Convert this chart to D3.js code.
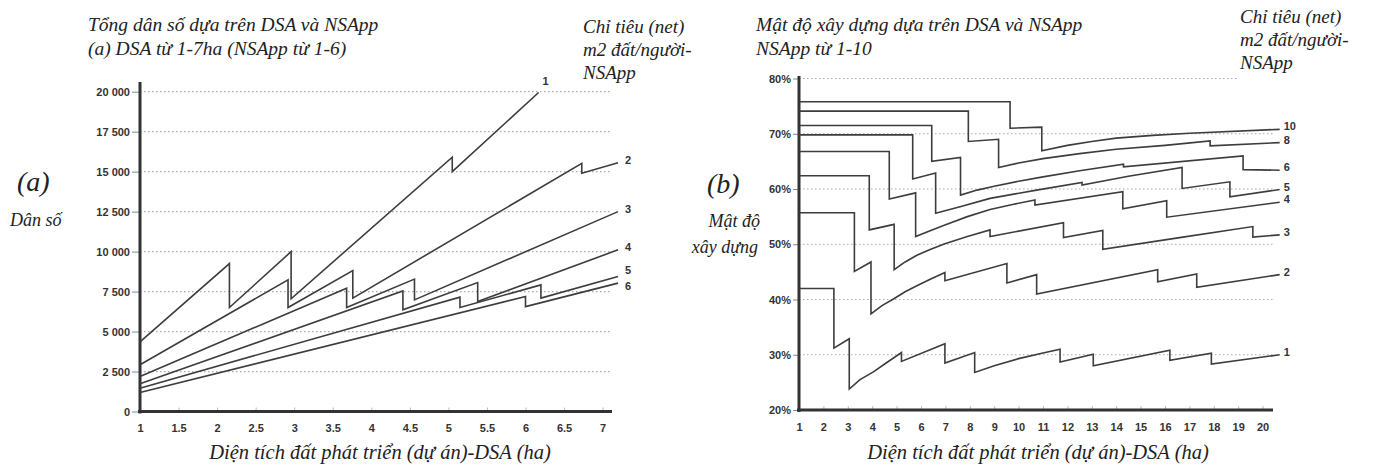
<!DOCTYPE html>
<html>
<head>
<meta charset="utf-8">
<script src="https://cdn.jsdelivr.net/npm/d3@7"></script>
<style>
body { margin: 0; background: #fff; }
svg text { font-family: "Liberation Sans", Arial, sans-serif; }
.ttl { font-family: "Liberation Serif", "Times New Roman", serif; font-style: italic; fill: #222; }
.tick text { font-weight: bold; font-size: 11px; fill: #333; }
.lbl { font-weight: bold; font-size: 11px; fill: #333; }
</style>
</head>
<body>
<svg width="1376" height="468"></svg>
<script>
// (a) tong dan so theo DSA (ha), moi duong la mot chi tieu NSApp
var popNames = ["1", "2", "3", "4", "5", "6"];
var pop1 = [[1,4350],[2.16,9250],[2.16,6500],[2.96,10000],[2.96,7050],[5.05,15900],[5.05,15000],[6.17,19950]];
var pop2 = [[1,2920],[2.92,8230],[2.92,6500],[3.76,8810],[3.76,7090],[6.73,15520],[6.73,14900],[7.2,15560]];
var pop3 = [[1,2190],[3.68,7710],[3.68,6500],[4.56,8280],[4.56,6980],[7.2,12500]];
var pop4 = [[1,1730],[4.41,7540],[4.41,6360],[5.38,8060],[5.38,6880],[7.2,10110]];
var pop5 = [[1,1460],[5.15,7150],[5.15,6500],[6.2,7920],[6.2,7090],[7.2,8440]];
var pop6 = [[1,1190],[6.0,7190],[6.0,6560],[7.2,8030]];
var popXTicks = [1, 1.5, 2, 2.5, 3, 3.5, 4, 4.5, 5, 5.5, 6, 6.5, 7];
var popYTicks = [0, 2500, 5000, 7500, 10000, 12500, 15000, 17500, 20000];

// (b) mat do xay dung (%) theo DSA (ha)
var densNames = ["10", "8", "6", "5", "4", "3", "2", "1"];
var dens10 = [[1,75.8],[9.65,75.8],[9.65,71.0],[10.95,71.2],[10.95,66.9],[12,67.9],[13,68.6],[14,69.2],[15.5,69.7],[17,70.1],[20.7,70.8]];
var dens8 = [[1,74.1],[7.94,74.1],[7.94,68.6],[9.18,69.0],[9.18,63.9],[10,64.7],[11,65.5],[12.5,66.4],[14,67.2],[16,67.9],[17.85,68.7],[17.85,67.8],[20.7,68.4]];
var dens6 = [[1,71.5],[6.44,71.5],[6.44,65.0],[7.62,65.7],[7.62,58.9],[8.3,59.8],[9,60.5],[10,61.4],[11,62.2],[12.5,63.3],[14.3,64.5],[14.3,64.0],[19.2,66.0],[19.2,63.5],[20.7,63.4]];
var dens5 = [[1,69.8],[5.66,69.8],[5.66,61.8],[6.6,62.9],[6.6,55.6],[7.6,56.8],[8.83,58.3],[10.74,59.8],[12.6,61.2],[12.6,60.7],[14.5,62.3],[16.7,63.9],[16.7,60.1],[18.66,61.3],[18.66,58.6],[20.7,59.9]];
var dens4 = [[1,66.8],[4.7,66.8],[4.7,58.2],[5.78,59.3],[5.78,51.4],[6.4,52.5],[6.98,53.5],[7.9,55.0],[8.83,56.3],[9.75,57.2],[10.67,58.0],[10.67,57.1],[14.27,59.5],[14.27,56.4],[16.07,57.9],[16.07,54.9],[20.7,57.6]];
var dens3 = [[1,62.4],[3.88,62.4],[3.88,52.6],[4.9,53.6],[4.9,45.4],[5.35,46.8],[5.83,48.0],[6.4,49.1],[6.98,50.1],[7.9,51.4],[8.83,52.6],[8.83,51.4],[11.84,53.9],[11.84,51.2],[13.45,52.5],[13.45,49.1],[16.6,51.2],[19.6,53.2],[19.6,51.3],[20.7,51.7]];
var dens2 = [[1,55.7],[3.27,55.7],[3.27,45.1],[3.95,46.8],[3.95,37.4],[4.4,38.9],[4.87,40.1],[5.35,41.4],[5.83,42.5],[6.4,43.7],[6.98,44.9],[6.98,43.4],[9.52,46.5],[9.52,43.0],[10.74,44.5],[10.74,41.0],[15.7,45.4],[15.7,43.2],[17.3,44.6],[17.3,42.2],[20.7,44.5]];
var dens1 = [[1,42.0],[2.43,42.0],[2.43,31.2],[3.06,32.9],[3.06,23.8],[3.5,25.5],[4.05,26.9],[4.6,28.6],[5.2,30.4],[5.2,28.8],[6.98,32.0],[6.98,28.5],[8.2,30.4],[8.2,26.8],[9,28.0],[10,29.3],[11,30.3],[11.7,31.0],[11.7,28.7],[13.06,30.1],[13.06,28.0],[16.2,30.8],[16.2,29.0],[17.9,30.3],[17.9,28.3],[20.7,30.0]];
var densXTicks = d3.range(1, 21);
var densYTicks = [20, 30, 40, 50, 60, 70, 80];

var popLines = [pop1, pop2, pop3, pop4, pop5, pop6];
var densLines = [dens10, dens8, dens6, dens5, dens4, dens3, dens2, dens1];

var svg = d3.select("svg");
svg.append("rect").attr("width", 1376).attr("height", 468).attr("fill", "#fff");

var spaceFmt = d3.formatLocale({decimal: ".", thousands: " ", grouping: [3], currency: ["", ""]}).format(",");

// ---------- chart (a) ----------
var xa = d3.scaleLinear().domain([1, 7]).range([140, 602.6]);
var ya = d3.scaleLinear().domain([0, 20000]).range([411.5, 91.7]);

var ga = svg.append("g");
ga.append("g").selectAll("line")
  .data(popYTicks.slice(1))
  .enter().append("line")
  .attr("x1", xa(1)).attr("x2", 612)
  .attr("y1", function(d) { return ya(d); })
  .attr("y2", function(d) { return ya(d); })
  .attr("stroke", "#aaa").attr("stroke-width", 1.2)
  .attr("stroke-dasharray", "1.5,2.5");

var axYa = ga.append("g").attr("transform", "translate(" + xa(1) + ",0)")
  .call(d3.axisLeft(ya).tickValues(popYTicks).tickSize(8).tickSizeOuter(0).tickFormat(spaceFmt).tickPadding(2));
axYa.select(".domain").remove();
axYa.selectAll(".tick line").attr("stroke", "#888");
axYa.selectAll(".tick text").attr("font-size", 12);

var axXa = ga.append("g").attr("transform", "translate(0," + ya(0) + ")")
  .call(d3.axisBottom(xa).tickValues(popXTicks).tickSize(-4).tickSizeOuter(0).tickPadding(13).tickFormat(d3.format("")));
axXa.select(".domain").remove();
axXa.selectAll(".tick line").attr("stroke", "#bbb");
axXa.selectAll(".tick text").attr("font-size", 12);

ga.append("line").attr("x1", xa(1)).attr("x2", xa(1)).attr("y1", 82).attr("y2", ya(0) + 2)
  .attr("stroke", "#333").attr("stroke-width", 3);
ga.append("line").attr("x1", xa(1) - 2).attr("x2", 612).attr("y1", ya(0)).attr("y2", ya(0))
  .attr("stroke", "#333").attr("stroke-width", 3);

var lineA = d3.line().x(function(d) { return xa(d[0]); }).y(function(d) { return ya(d[1]); });
ga.append("g").selectAll("path")
  .data(popLines)
  .enter().append("path")
  .attr("d", lineA)
  .attr("fill", "none").attr("stroke", "#3d3d3d").attr("stroke-width", 1.6);

// nhan cuoi duong: "1" dat phia tren, "5" va "6" tach ra cho khoi de len nhau
var popNudge = {"1": -8, "5": -4, "6": 6};
ga.append("g").selectAll("text")
  .data(popLines)
  .enter().append("text")
  .attr("class", "lbl")
  .attr("x", function(d, i) { var p = d[d.length - 1]; return xa(p[0]) + (i == 0 ? 4 : 7); })
  .attr("y", function(d, i) { var p = d[d.length - 1]; return ya(p[1]) + 1 + (popNudge[popNames[i]] || 0); })
  .text(function(d, i) { return popNames[i]; });

ga.append("text").attr("class", "ttl").attr("x", 88).attr("y", 31).attr("font-size", 19.5)
  .text("Tổng dân số dựa trên DSA và NSApp");
ga.append("text").attr("class", "ttl").attr("x", 88).attr("y", 55).attr("font-size", 19.5)
  .text("(a) DSA từ 1-7ha (NSApp từ 1-6)");
ga.append("text").attr("class", "ttl").attr("x", 583).attr("y", 33).attr("font-size", 19).text("Chỉ tiêu (net)");
ga.append("text").attr("class", "ttl").attr("x", 583).attr("y", 56).attr("font-size", 19).text("m2 đất/người-");
ga.append("text").attr("class", "ttl").attr("x", 583).attr("y", 79).attr("font-size", 19).text("NSApp");
ga.append("text").attr("class", "ttl").attr("x", 17).attr("y", 191).attr("font-size", 28).text("(a)");
ga.append("text").attr("class", "ttl").attr("x", 10).attr("y", 226).attr("font-size", 18).text("Dân số");
ga.append("text").attr("class", "ttl").attr("x", 380).attr("y", 459).attr("font-size", 20.5)
  .attr("text-anchor", "middle").text("Diện tích đất phát triển (dự án)-DSA (ha)");

// ---------- chart (b) ----------
var xb = d3.scaleLinear().domain([1, 20]).range([799, 1262.6]);
var yb = d3.scaleLinear().domain([20, 80]).range([410, 78.5]);

var gb = svg.append("g");
gb.append("g").selectAll("line")
  .data(densYTicks.slice(1))
  .enter().append("line")
  .attr("x1", xb(1)).attr("x2", function(d) { return d == 80 ? 1237 : 1275; })
  .attr("y1", function(d) { return yb(d); })
  .attr("y2", function(d) { return yb(d); })
  .attr("stroke", "#aaa").attr("stroke-width", 1.2)
  .attr("stroke-dasharray", "1.5,2.5");

var axYb = gb.append("g").attr("transform", "translate(" + xb(1) + ",0)")
  .call(d3.axisLeft(yb).tickValues(densYTicks).tickSize(6).tickSizeOuter(0).tickPadding(2)
    .tickFormat(function(d) { return d + "%"; }));
axYb.select(".domain").remove();
axYb.selectAll(".tick line").attr("stroke", "#888");
axYb.selectAll(".tick text").attr("font-size", 11);

var axXb = gb.append("g").attr("transform", "translate(0," + yb(20) + ")")
  .call(d3.axisBottom(xb).tickValues(densXTicks).tickSize(-4).tickSizeOuter(0).tickPadding(13));
axXb.select(".domain").remove();
axXb.selectAll(".tick line").attr("stroke", "#bbb");

gb.append("line").attr("x1", xb(1)).attr("x2", xb(1)).attr("y1", 76).attr("y2", yb(20) + 2)
  .attr("stroke", "#333").attr("stroke-width", 3);
gb.append("line").attr("x1", xb(1) - 2).attr("x2", 1273).attr("y1", yb(20)).attr("y2", yb(20))
  .attr("stroke", "#333").attr("stroke-width", 3);

var lineB = d3.line().x(function(d) { return xb(d[0]); }).y(function(d) { return yb(d[1]); });
gb.append("g").selectAll("path")
  .data(densLines)
  .enter().append("path")
  .attr("d", lineB)
  .attr("fill", "none").attr("stroke", "#3d3d3d").attr("stroke-width", 1.6);

gb.append("g").selectAll("text")
  .data(densLines)
  .enter().append("text")
  .attr("class", "lbl")
  .attr("x", function(d) { var p = d[d.length - 1]; return xb(p[0]) + 4; })
  .attr("y", function(d) { var p = d[d.length - 1]; return yb(p[1]) + 1; })
  .text(function(d, i) { return densNames[i]; });

gb.append("text").attr("class", "ttl").attr("x", 756).attr("y", 31).attr("font-size", 19.5)
  .text("Mật độ xây dựng dựa trên DSA và NSApp");
gb.append("text").attr("class", "ttl").attr("x", 756).attr("y", 55).attr("font-size", 19.5)
  .text("NSApp từ 1-10");
gb.append("text").attr("class", "ttl").attr("x", 1240).attr("y", 23).attr("font-size", 19).text("Chỉ tiêu (net)");
gb.append("text").attr("class", "ttl").attr("x", 1240).attr("y", 46).attr("font-size", 19).text("m2 đất/người-");
gb.append("text").attr("class", "ttl").attr("x", 1240).attr("y", 69).attr("font-size", 19).text("NSApp");
gb.append("text").attr("class", "ttl").attr("x", 707).attr("y", 193).attr("font-size", 28).text("(b)");
gb.append("text").attr("class", "ttl").attr("x", 760).attr("y", 227).attr("font-size", 18)
  .attr("text-anchor", "end").text("Mật độ");
gb.append("text").attr("class", "ttl").attr("x", 758).attr("y", 253).attr("font-size", 18)
  .attr("text-anchor", "end").text("xây dựng");
gb.append("text").attr("class", "ttl").attr("x", 1038).attr("y", 459).attr("font-size", 20.5)
  .attr("text-anchor", "middle").text("Diện tích đất phát triển (dự án)-DSA (ha)");
</script>
</body>
</html>
